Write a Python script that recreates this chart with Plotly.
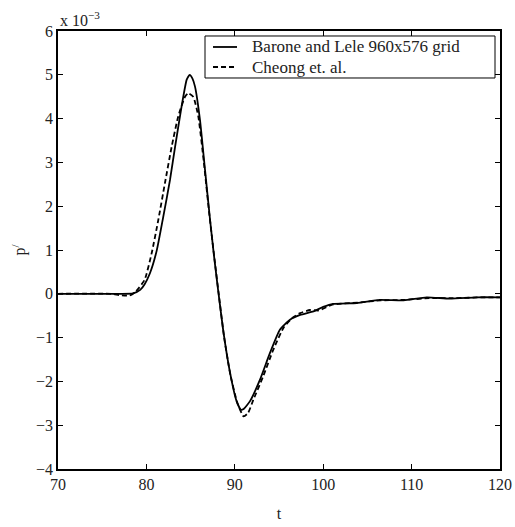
import plotly.graph_objects as go

# time axis values and pressure fluctuation (units of 1e-3)
t_barone = [70, 74, 77, 78.5, 79.3, 79.8, 80.4, 81.16, 81.9, 82.67, 83.24, 84.0, 84.56, 84.9, 85.2,
            85.5, 86.06, 86.63, 87.2, 87.6, 87.95, 88.25, 88.7, 89.46, 90.2, 90.7, 91.0, 91.72,
            92.85, 93.98, 95.1, 96.24, 97.4, 98.9, 100.0, 101.1, 103.8, 106.4, 109.1, 111.7,
            114.3, 117.4, 120]
p_barone = [0, 0, 0, 0.01, 0.09, 0.22, 0.47, 0.98, 1.75, 2.6, 3.35, 4.3, 4.89, 5.0, 4.92,
            4.73, 3.97, 2.83, 1.69, 0.95, 0.35, -0.14, -0.85, -1.8, -2.45, -2.65, -2.63, -2.45,
            -1.96, -1.35, -0.82, -0.59, -0.48, -0.40, -0.30, -0.23, -0.21, -0.14, -0.15, -0.08,
            -0.11, -0.08, -0.08]

t_cheong = [70, 76, 77, 78.1, 78.8, 79.8, 80.6, 81.35, 82.1, 82.86, 83.6, 84.37, 84.74, 85.3,
            85.87, 86.5, 87.1, 87.7, 88.3, 88.8, 89.5, 90.3, 91.0, 91.5, 92.1, 93.2, 94.35,
            95.5, 96.5, 97.4, 98.5, 99.5, 101, 104, 106.5, 109, 112, 115, 118, 120]
p_cheong = [0, 0, -0.03, -0.04, 0.05, 0.32, 0.93, 1.69, 2.53, 3.36, 4.05, 4.5, 4.58, 4.5,
            4.05, 3.0, 1.85, 0.8, -0.2, -1.0, -1.85, -2.5, -2.8, -2.72, -2.42, -1.89, -1.28,
            -0.78, -0.55, -0.44, -0.37, -0.38, -0.25, -0.2, -0.15, -0.14, -0.1, -0.1, -0.08, -0.08]

series_names = ["Barone and Lele 960x576 grid", "Cheong et. al."]
x_ticks = [70, 80, 90, 100, 110, 120]
y_ticks = [-4, -3, -2, -1, 0, 1, 2, 3, 4, 5, 6]

FONT = "Liberation Serif"
TXT = "#222"
dashes = ["solid", "5px,3px"]

fig = go.Figure()
fig.add_trace(go.Scatter(x=t_barone, y=p_barone, mode="lines", name=series_names[0],
                         line=dict(color="black", width=1.8, dash=dashes[0], shape="spline", smoothing=0.5)))
fig.add_trace(go.Scatter(x=t_cheong, y=p_cheong, mode="lines", name=series_names[1],
                         line=dict(color="black", width=1.8, dash=dashes[1], shape="spline", smoothing=0.5)))

axis_common = dict(showgrid=False, zeroline=False, showline=True, linecolor="black", linewidth=1.5,
                   mirror="ticks", ticks="inside", ticklen=5, tickwidth=1.2, tickcolor="black",
                   automargin=False,
                   tickfont=dict(family=FONT, size=16, color=TXT))

fig.update_xaxes(range=[70, 120], tickvals=x_ticks, **axis_common,
                 title=dict(text="t", font=dict(family=FONT, size=16, color=TXT), standoff=16))
fig.update_yaxes(range=[-4, 6], tickvals=y_ticks, **axis_common,
                 title=dict(text="p<sup>/</sup>", font=dict(family=FONT, size=16, color=TXT), standoff=6))

fig.add_annotation(text="x 10<sup>−3</sup>", xref="paper", yref="paper", x=0.0, y=1.0,
                   xanchor="left", yanchor="bottom", showarrow=False,
                   font=dict(family=FONT, size=16, color=TXT))

# legend box (drawn in paper coordinates, MATLAB style)
box = dict(x0=0.3326, x1=0.9887, y0=0.8927, y1=0.9886)
fig.add_shape(type="rect", xref="paper", yref="paper", **box,
              line=dict(color="black", width=1), fillcolor="white", layer="above")
rows_y = [0.9635, 0.9178]
for name, dash, yy in zip(series_names, dashes, rows_y):
    fig.add_shape(type="line", xref="paper", yref="paper", x0=0.3507, x1=0.4050, y0=yy, y1=yy,
                  line=dict(color="black", width=1.8, dash=dash), layer="above")
    fig.add_annotation(text=name, xref="paper", yref="paper", x=0.4344, y=yy,
                       xanchor="left", yanchor="middle", showarrow=False,
                       font=dict(family=FONT, size=17, color=TXT))

fig.update_layout(
    width=515, height=527,
    margin=dict(l=58, r=15, t=31, b=58),
    paper_bgcolor="white", plot_bgcolor="white",
    showlegend=False,
)

fig.write_html("out.html")
